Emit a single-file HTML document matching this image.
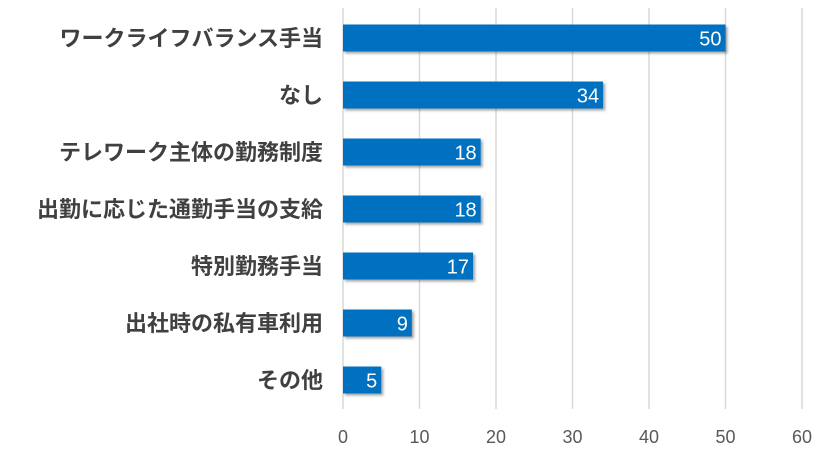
<!DOCTYPE html>
<html><head><meta charset="utf-8"><style>
body{margin:0;background:#fff;}
svg{display:block;font-family:"Liberation Sans","Noto Sans CJK JP",sans-serif;}
</style></head><body>
<svg width="835" height="455">
<defs><filter id="sh" x="-5%" y="-10%" width="115%" height="140%"><feDropShadow dx="2" dy="2" stdDeviation="1.2" flood-color="#000" flood-opacity="0.35"/></filter></defs>
<g id="grid"></g><g id="bars"></g><g id="labels"></g><g id="ticks"></g>
</svg>
<script>
const categories=["ワークライフバランス手当","なし","テレワーク主体の勤務制度","出勤に応じた通勤手当の支給","特別勤務手当","出社時の私有車利用","その他"];
const values=[50,34,18,18,17,9,5];
const ticks=[0,10,20,30,40,50,60];
const ns="http://www.w3.org/2000/svg";
const x0=343,x1=802,xmax=60;
const xs=v=>x0+(x1-x0)*v/xmax;
const yc=i=>38+i*57;
function mk(t,a,p){const e=document.createElementNS(ns,t);for(const k in a)e.setAttribute(k,a[k]);document.getElementById(p).appendChild(e);return e;}
ticks.forEach(t=>{
 const l=mk('line',{x1:xs(t),x2:xs(t),y1:8,y2:409,stroke:'#d9d9d9','stroke-width':1.5},'grid');
 
 
 const tx=mk('text',{x:xs(t),y:443,'text-anchor':'middle','font-size':18,fill:'#595959'},'ticks');
 tx.textContent=t;
 
 
});
categories.forEach((c,i)=>{
 const b=mk('rect',{x:x0,y:yc(i)-13.5,width:xs(values[i])-x0,height:27,fill:'#0070c0',filter:'url(#sh)'},'bars');
 
 
 const v=mk('text',{x:xs(values[i])-4,y:yc(i)+7.5,'text-anchor':'end','font-size':20,fill:'#fff'},'bars');
 v.textContent=values[i];
 
 
 const l=mk('text',{x:323,y:yc(i)+8,'text-anchor':'end','font-size':22,'font-weight':'bold',fill:'#404040'},'labels');
 l.textContent=c;
 
 
});
</script>
</body></html>
